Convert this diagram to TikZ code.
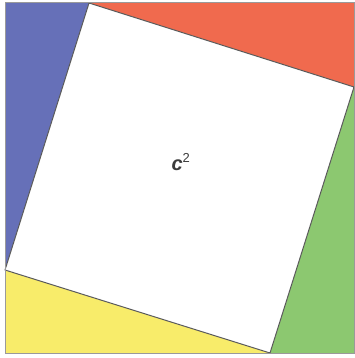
\documentclass[tikz,border=0pt]{standalone}
\usepackage{fontspec}
\setmainfont{Liberation Sans}
\definecolor{cblue}{HTML}{6670B8}
\definecolor{cred}{HTML}{F06A4E}
\definecolor{cgreen}{HTML}{8CC870}
\definecolor{cyellow}{HTML}{F8EC6A}
\definecolor{edge}{HTML}{5A5A5A}
\definecolor{frame}{HTML}{9A9A9A}
\definecolor{txt}{HTML}{3C3C3C}
\begin{document}
\begin{tikzpicture}[x=1pt,y=-1pt,
  tri/.style={draw=edge,line width=0.8pt,line join=round},
  sq/.style={draw=edge,line width=1pt,fill=white,line join=round}]
\useasboundingbox (0,0) rectangle (355,358);
\coordinate (TL) at (5,3);
\coordinate (TR) at (354,3);
\coordinate (BR) at (354,353);
\coordinate (BL) at (5,353);
\coordinate (P) at (89,3);
\coordinate (Q) at (354,87);
\coordinate (R) at (270,353);
\coordinate (S) at (5,270);
\fill[cblue] (TL) -- (P) -- (S) -- cycle;
\fill[cred] (P) -- (TR) -- (Q) -- cycle;
\fill[cgreen] (Q) -- (BR) -- (R) -- cycle;
\fill[cyellow] (R) -- (BL) -- (S) -- cycle;
\draw[sq] (P) -- (Q) -- (R) -- (S) -- cycle;
\draw[frame,line width=1pt] (TL) rectangle (BR);
\node[text=txt,font=\bfseries\itshape\fontsize{20}{22}\selectfont] (lab) at (181,162) {c\textsuperscript{\normalfont\fontsize{13}{14}\selectfont 2}};
\end{tikzpicture}
\end{document}
